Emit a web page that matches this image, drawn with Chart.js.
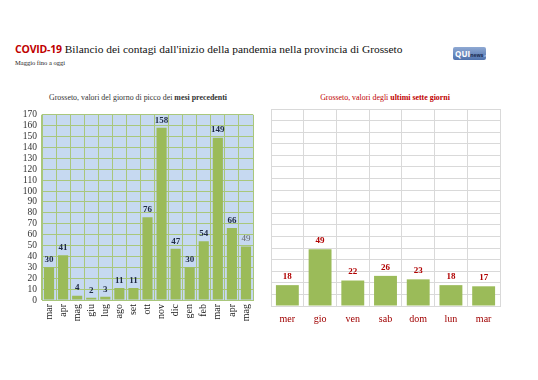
<!DOCTYPE html>
<html><head><meta charset="utf-8">
<script src="https://cdn.jsdelivr.net/npm/chart.js@4/dist/chart.umd.min.js"></script>
<style>
html,body{margin:0;padding:0;background:#fff;width:538px;height:380px;overflow:hidden;font-family:"Liberation Serif","DejaVu Serif",serif;}
#title{position:absolute;left:15px;top:42px;white-space:nowrap;font-size:11.4px;color:#111;}
#title b{font-family:"Open Sans",sans-serif;color:#c00000;font-weight:700;font-size:10.5px;letter-spacing:-0.2px;}
#sub{position:absolute;left:15px;top:59px;font-size:6.5px;color:#222;}
#logo{position:absolute;left:453px;top:47px;width:33px;height:13px;background:linear-gradient(#8fa9d3,#4f72ad);border-radius:2px;font-family:"Open Sans",sans-serif;font-size:8px;line-height:13px;color:#fff;font-weight:700;white-space:nowrap;overflow:hidden;}
#logo span{font-size:5px;color:#1a2a50;font-weight:700}
#logo i{font-size:4px;color:#b9c9e6;font-style:normal}
.cap{position:absolute;top:93px;font-size:7.9px;white-space:nowrap;transform:translateX(-50%);font-family:"Liberation Serif","DejaVu Serif",serif;}
#c1{position:absolute;left:10px;top:105px;}
#c2{position:absolute;left:265px;top:105px;}
</style></head><body>
<div id="title"><b>COVID-19</b> Bilancio dei contagi dall'inizio della pandemia nella provincia di Grosseto</div>
<div id="sub">Maggio fino a oggi</div>
<div id="logo">&nbsp;QUI<span>news</span><i>.net</i></div>
<div class="cap" style="left:138px;color:#333;">Grosseto, valori del giorno di picco dei <b>mesi precedenti</b></div>
<div class="cap" style="left:385px;color:#c00000;">Grosseto, valori degli <b>ultimi sette giorni</b></div>
<canvas id="c1" width="255" height="235"></canvas>
<canvas id="c2" width="250" height="235"></canvas>
<script>
const monthLabels = ["mar","apr","mag","giu","lug","ago","set","ott","nov","dic","gen","feb","mar","apr","mag"];
const monthPeaks = [30,41,4,2,3,11,11,76,158,47,30,54,149,66,49];
const dayLabels = ["mer","gio","ven","sab","dom","lun","mar"];
const dayValues = [18,49,22,26,23,18,17];
const yTicksMax = 170;
const yTickStep = 10;

const serif = '"Liberation Serif", "DejaVu Serif", serif';

const bgPlugin = {
  id:'bg',
  beforeDraw(chart, args, opts){
    if(!opts.color) return;
    const a = chart.chartArea, ctx = chart.ctx;
    ctx.save(); ctx.fillStyle = opts.color;
    ctx.fillRect(a.left, a.top, a.right-a.left, a.bottom-a.top);
    ctx.restore();
  }
};
const labelPlugin = {
  id:'vlabels',
  afterDatasetsDraw(chart, args, opts){
    const ctx = chart.ctx;
    const meta = chart.getDatasetMeta(0);
    const data = chart.data.datasets[0].data;
    ctx.save();
    ctx.textAlign='center'; ctx.textBaseline='bottom';
    meta.data.forEach((bar,i)=>{
      const special = opts.lastPlain && i===data.length-1;
      ctx.font = (special?'':'bold ') + opts.size + 'px ' + serif;
      ctx.fillStyle = special ? '#666' : opts.color;
      ctx.fillText(String(data[i]), bar.x, bar.y - opts.gap);
    });
    ctx.restore();
  }
};
Chart.register(bgPlugin, labelPlugin);

new Chart(document.getElementById('c1'), {
  type:'bar',
  data:{labels:monthLabels, datasets:[{data:monthPeaks, backgroundColor:'#9bbb59', borderWidth:0, barPercentage:0.72, categoryPercentage:1}]},
  options:{
    responsive:false, animation:false,
    layout:{padding:{top:6,right:12,left:0,bottom:0}},
    plugins:{legend:{display:false}, tooltip:{enabled:false}, title:{display:false},
      bg:{color:'#c6d9f1'}, vlabels:{color:'#1f2a44', size:9, gap:3, lastPlain:true}},
    scales:{
      x:{grid:{color:'#a9c77c', lineWidth:1, drawTicks:false}, border:{color:'#a9c77c'},
        ticks:{minRotation:90, maxRotation:90, autoSkip:false, color:'#222', padding:4, font:{family:serif, size:10}},
        afterFit(s){ s.height = 40; }},
      y:{min:0, max:yTicksMax, grid:{color:'#a9c77c', lineWidth:1, drawTicks:false}, border:{color:'#a9c77c'},
        ticks:{stepSize:yTickStep, autoSkip:false, color:'#333', padding:5, font:{family:serif, size:9.5, lineHeight:1}},
        afterFit(s){ s.width = 32; }}
    }
  }
});

new Chart(document.getElementById('c2'), {
  type:'bar',
  data:{labels:dayLabels, datasets:[{data:dayValues, backgroundColor:'#9bbb59', borderWidth:0, barPercentage:0.7, categoryPercentage:1}]},
  options:{
    responsive:false, animation:false,
    layout:{padding:{top:4,right:15,left:0,bottom:0}},
    plugins:{legend:{display:false}, tooltip:{enabled:false}, title:{display:false},
      vlabels:{color:'#b00000', size:9, gap:4}},
    scales:{
      x:{grid:{color:'#d9d9d9', lineWidth:1, drawTicks:false}, border:{color:'#d9d9d9'},
        ticks:{maxRotation:0, color:'#a00000', padding:7, font:{family:serif, size:10}},
        afterFit(s){ s.height = 34; }},
      y:{min:0, max:yTicksMax, grid:{color:'#d9d9d9', lineWidth:1, drawTicks:false}, border:{color:'#d9d9d9'},
        ticks:{stepSize:yTickStep, autoSkip:false, display:false},
        afterFit(s){ s.width = 6; }}
    }
  }
});
</script>
</body></html>
